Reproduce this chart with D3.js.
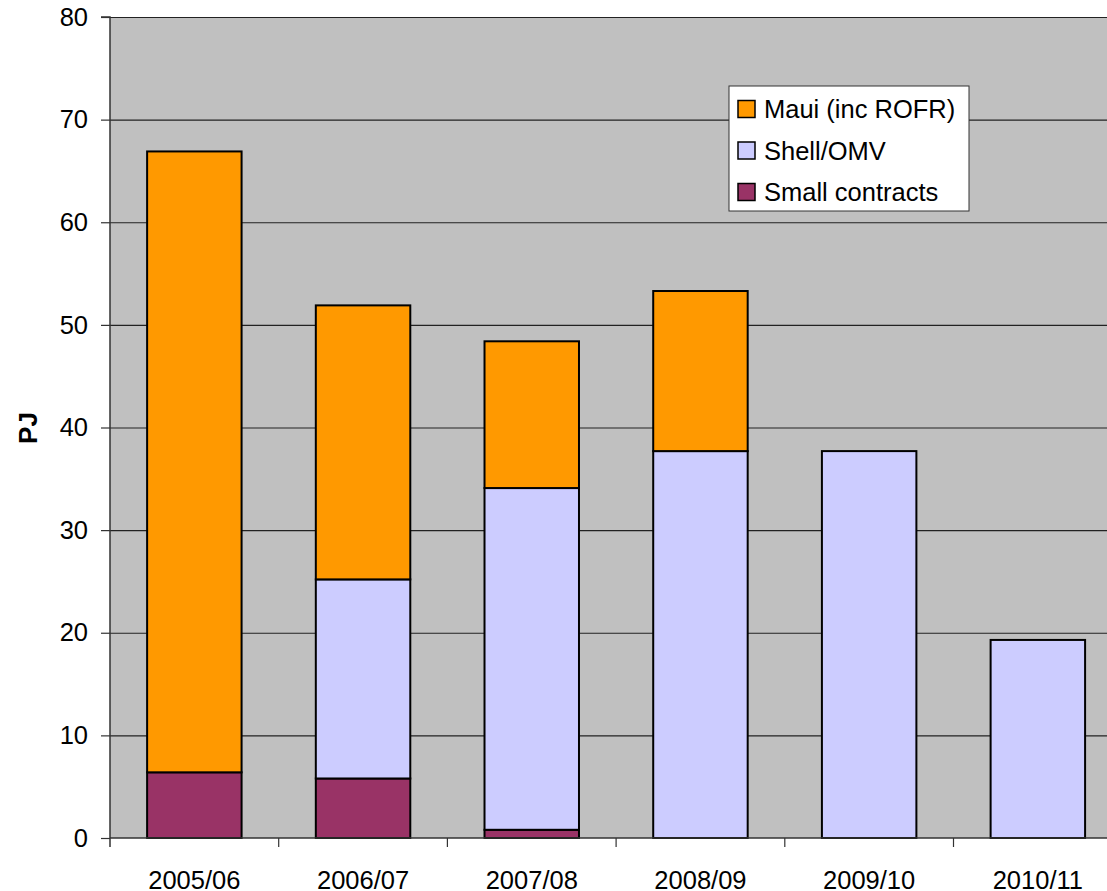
<!DOCTYPE html>
<html>
<head>
<meta charset="utf-8">
<script src="https://cdn.jsdelivr.net/npm/d3@7"></script>
<style>
  html, body { margin: 0; padding: 0; background: #ffffff; }
  svg { display: block; font-family: "Liberation Sans", Arial, sans-serif; }
</style>
</head>
<body>
<svg id="chart" width="1107" height="891"></svg>
<script>
// Gas contract volumes by year (PJ)
const years = ["2005/06", "2006/07", "2007/08", "2008/09", "2009/10", "2010/11"];
const smallContracts = [6.4, 5.8, 0.8, 0, 0, 0];
const shellOMV = [0, 19.4, 33.3, 37.7, 37.7, 19.3];
const maui = [60.5, 26.7, 14.3, 15.6, 0, 0];
const seriesNames = ["Small contracts", "Shell/OMV", "Maui (inc ROFR)"];
const seriesColors = ["#993366", "#CCCCFF", "#FF9900"];
const legendOrder = ["Maui (inc ROFR)", "Shell/OMV", "Small contracts"];
const yTicks = [0, 10, 20, 30, 40, 50, 60, 70, 80];

const rows = years.map((y, i) => ({
  year: y,
  "Small contracts": smallContracts[i],
  "Shell/OMV": shellOMV[i],
  "Maui (inc ROFR)": maui[i]
}));

const svg = d3.select("#chart");
const plotLeft = 110, plotTop = 17, plotBottom = 838, plotRight = 110 + 6 * 168.7;
const fontSize = 25.5;

const x = d3.scaleBand().domain(years).range([plotLeft, plotRight]).paddingInner(0.44).paddingOuter(0.22);
const xb = d3.scaleBand().domain(years).range([plotLeft, plotRight]);
const y = d3.scaleLinear().domain([0, 80]).range([plotBottom, plotTop]);
const color = d3.scaleOrdinal().domain(seriesNames).range(seriesColors);

// plot background
svg.append("rect")
  .attr("x", plotLeft).attr("y", plotTop)
  .attr("width", plotRight - plotLeft).attr("height", plotBottom - plotTop)
  .attr("fill", "#C0C0C0");

// horizontal gridlines
svg.append("g")
  .selectAll("line")
  .data(yTicks.filter(d => d > 0))
  .join("line")
  .attr("x1", plotLeft).attr("x2", plotRight)
  .attr("y1", d => y(d) + 0.5).attr("y2", d => y(d) + 0.5)
  .attr("stroke", "#222").attr("stroke-width", 1.2);

// stacked bars
const stacked = d3.stack().keys(seriesNames)(rows);
svg.append("g")
  .selectAll("g")
  .data(stacked)
  .join("g")
  .attr("fill", d => color(d.key))
  .selectAll("rect")
  .data(d => d.filter(s => s[1] - s[0] > 0))
  .join("rect")
  .attr("x", d => x(d.data.year))
  .attr("width", x.bandwidth())
  .attr("y", d => y(d[1]))
  .attr("height", d => y(d[0]) - y(d[1]))
  .attr("stroke", "#000")
  .attr("stroke-width", 2);

// y axis
const yAxis = d3.axisLeft(y).tickValues(yTicks).tickSize(9).tickPadding(13).tickFormat(d3.format("d"));
const gy = svg.append("g").attr("transform", `translate(${plotLeft},0)`).call(yAxis);
gy.select(".domain").attr("stroke", "#333").attr("stroke-width", 1.5).attr("d", `M-9,${plotTop}H0V${plotBottom + 9}`);
gy.selectAll(".tick line").attr("stroke", "#333").attr("stroke-width", 1.2);
gy.selectAll(".tick text").attr("font-size", fontSize).attr("fill", "#000")
  .attr("font-family", "Liberation Sans, Arial, sans-serif");

// x axis: ticks on category boundaries
const gx = svg.append("g").attr("transform", `translate(0,${plotBottom})`);
gx.append("line").attr("x1", plotLeft).attr("x2", plotRight).attr("y1", 0).attr("y2", 0)
  .attr("stroke", "#333").attr("stroke-width", 1.5);
gx.selectAll("line.tk")
  .data(years)
  .join("line")
  .attr("class", "tk")
  .attr("x1", d => xb(d) + xb.bandwidth()).attr("x2", d => xb(d) + xb.bandwidth())
  .attr("y1", 0).attr("y2", 9)
  .attr("stroke", "#333").attr("stroke-width", 1.2);
gx.selectAll("text")
  .data(years)
  .join("text")
  .attr("x", d => xb(d) + xb.bandwidth() / 2)
  .attr("y", 51)
  .attr("text-anchor", "middle")
  .attr("font-size", fontSize)
  .text(d => d);

// y axis title
svg.append("text")
  .attr("transform", `translate(37,428) rotate(-90)`)
  .attr("text-anchor", "middle")
  .attr("font-size", 26)
  .attr("font-weight", "bold")
  .text("PJ");

// legend
const lg = svg.append("g").attr("transform", "translate(729,86)");
lg.append("rect").attr("width", 240).attr("height", 125)
  .attr("fill", "#fff").attr("stroke", "#333").attr("stroke-width", 1);
const items = lg.selectAll("g.item")
  .data(legendOrder)
  .join("g")
  .attr("class", "item")
  .attr("transform", (d, i) => `translate(9,${23 + i * 41.5})`);
items.append("rect")
  .attr("x", 0).attr("y", -8.5).attr("width", 17).attr("height", 17)
  .attr("fill", d => color(d)).attr("stroke", "#000").attr("stroke-width", 1.5);
items.append("text")
  .attr("x", 26).attr("y", 9)
  .attr("font-size", fontSize)
  .text(d => d);
</script>
</body>
</html>
